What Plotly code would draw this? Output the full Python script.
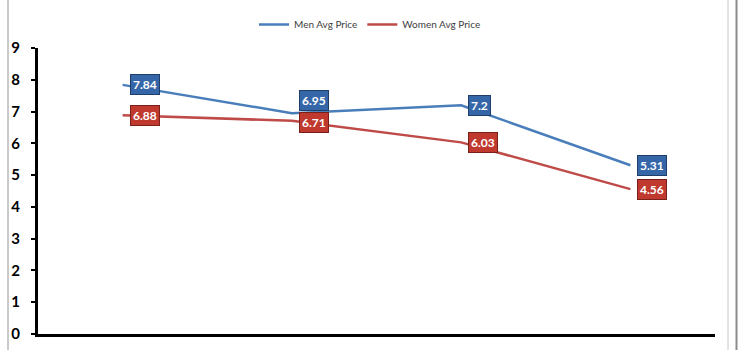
import plotly.graph_objects as go

categories = ["Cat 1", "Cat 2", "Cat 3", "Cat 4"]
men_avg = [7.84, 6.95, 7.2, 5.31]
women_avg = [6.88, 6.71, 6.03, 4.56]
men_name = "Men Avg Price"
women_name = "Women Avg Price"
y_ticks = list(range(0, 10))

BLUE = "#4A7EBB"
RED = "#BE4B48"
BLUE_BOX = "#3567A8"
RED_BOX = "#C0392F"

fig = go.Figure()
fig.add_trace(go.Scatter(x=categories, y=men_avg, mode="lines", name=men_name,
                         line=dict(color=BLUE, width=2.5)))
fig.add_trace(go.Scatter(x=categories, y=women_avg, mode="lines", name=women_name,
                         line=dict(color=RED, width=2.5)))

men_yshift = [0, 13, 0, 0]
women_yshift = [0, -2, 0, 0]
for vals, box, shifts in ((men_avg, BLUE_BOX, men_yshift), (women_avg, RED_BOX, women_yshift)):
    for c, v, s in zip(categories, vals, shifts):
        fig.add_annotation(x=c, y=v, text=f"<b>{v:g}</b>", showarrow=False,
                           xanchor="left", yanchor="middle", xshift=7, yshift=s,
                           font=dict(family="Lato, Open Sans, sans-serif", size=12, color="white"),
                           bgcolor=box, bordercolor="#1F3F6A" if box == BLUE_BOX else "#7A1F1A",
                           borderwidth=1, borderpad=2)

# frame lines
L, R = 38, 715
W = R - L
def px(x):
    return (x - L) / W
fig.add_shape(type="line", xref="paper", yref="paper", x0=px(8), x1=px(8), y0=-1, y1=2,
              line=dict(color="#B8B8B8", width=1.5))
fig.add_shape(type="line", xref="paper", yref="paper", x0=px(728), x1=px(728), y0=-1, y1=2,
              line=dict(color="#C8C8C8", width=1))
fig.add_shape(type="line", xref="paper", yref="paper", x0=px(736.5), x1=px(736.5), y0=-1, y1=2,
              line=dict(color="#8C8C8C", width=2))

fig.update_layout(
    width=740, height=350,
    margin=dict(l=L, r=740 - R, t=48, b=16, autoexpand=False),
    paper_bgcolor="white", plot_bgcolor="white",
    showlegend=True,
    legend=dict(orientation="h", xref="container", yref="container", x=0.5, y=0.93,
                xanchor="center", yanchor="middle",
                font=dict(family="Lato, Open Sans, sans-serif", size=10, color="#404040"),
                itemwidth=30, tracegroupgap=0),
    xaxis=dict(showticklabels=False, showgrid=False, zeroline=False, showline=True,
               linecolor="black", linewidth=3, ticks="", range=[-0.5, 3.5]),
    yaxis=dict(range=[0, 9], tickvals=y_ticks, showgrid=False, zeroline=False,
               showline=True, linecolor="black", linewidth=3, ticks="outside",
               ticklen=4, tickwidth=2, tickcolor="black", ticklabelstandoff=8,
               tickfont=dict(family="Lato, Open Sans, sans-serif", size=15, color="black",
                             weight="bold")),
)

fig.write_html("out.html")
